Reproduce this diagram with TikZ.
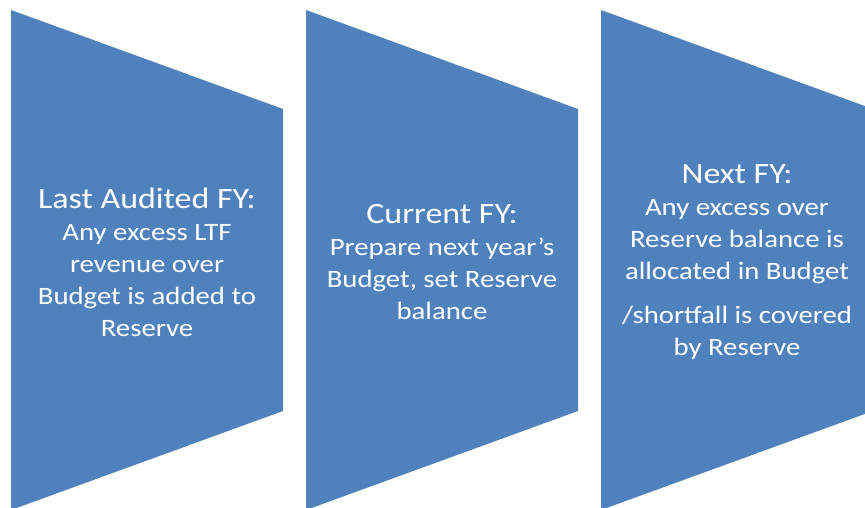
\documentclass[tikz,border=0pt]{standalone}
\usepackage{fontspec}
\usepackage{tikz}
\usetikzlibrary{positioning}

\newfontfamily\stagefont[FakeStretch=1.15]{Carlito}
\definecolor{stageblue}{RGB}{79,129,189}
\newcommand{\stagehead}{\fontsize{29.5}{33}\selectfont}

\begin{document}
\begin{tikzpicture}
    [
      x=1pt, y=-1pt,
      stage/.style={fill=stageblue, draw=none},
      stagetext/.style={text=white, align=center, inner sep=0pt,
        font=\stagefont\fontsize{25}{32}\selectfont},
    ]

    \useasboundingbox (0,0) rectangle (865,508);
    \clip (0,0) rectangle (865,508);

    % the three stages, tall side left, short side right
    \foreach \x/\name in {11/audited, 306/current, 601/next}{
      \path [stage] (\x,10) -- ++(272,99) -- ++(0,302) -- ++(-272,99) -- cycle;
      \coordinate (\name) at (\x+136,262);
    }

    \node (audited-text) [stagetext] at (audited)
      {{\stagehead Last Audited FY:}\\Any excess LTF\\revenue over\\Budget is added to\\Reserve};
    \node (current-text) [stagetext] at (current)
      {{\stagehead Current FY:}\\Prepare next year’s\\Budget, set Reserve\\balance};
    \node (next-text) [stagetext] at (next)
      {{\stagehead Next FY:}\\Any excess over\\Reserve balance is\\allocated in Budget\\[12pt]/shortfall is covered\\by Reserve};

  \end{tikzpicture}
\end{document}
